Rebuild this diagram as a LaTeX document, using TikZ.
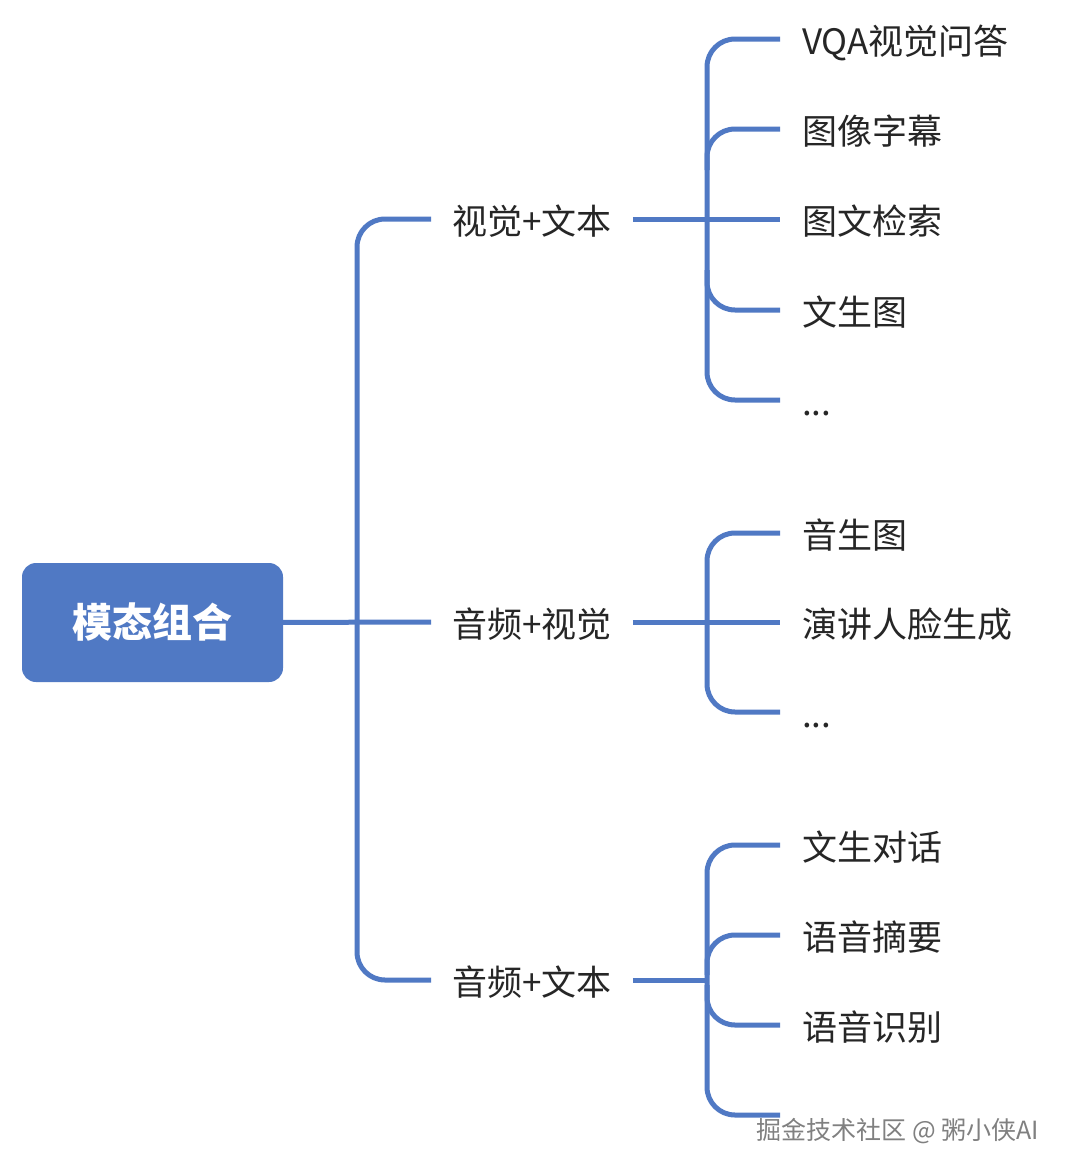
\documentclass[tikz,border=0pt]{standalone}
\usepackage{fontspec}
\setmainfont{Noto Sans CJK SC}
\usetikzlibrary{positioning}
\definecolor{mapblue}{RGB}{80,121,196}
\definecolor{mapink}{RGB}{38,38,38}
\tikzstyle{root} = [rectangle, rounded corners=14pt, fill=mapblue, text=white, font=\fontsize{40}{46}\selectfont\bfseries, minimum width=261pt, minimum height=119pt]
\tikzstyle{topic} = [inner xsep=21pt, text=mapink, font=\fontsize{35}{42}\selectfont, text height=32pt, text depth=2pt]
\tikzstyle{leaf} = [anchor=west, inner xsep=22pt, text=mapink, font=\fontsize{35}{42}\selectfont, text height=32pt, text depth=2pt]
\tikzstyle{link} = [draw=mapblue, line width=5pt, rounded corners=28pt]
\tikzstyle{watermark} = [text=black!50, font=\fontsize{25}{30}\selectfont]

\begin{document}
\begin{tikzpicture}[x=1pt,y=-1pt]
  \fill[white] (0,0) rectangle (1071,1175);
  \useasboundingbox (0,0) rectangle (1071,1175);
  % root and the three pairs
  \node[root] (root) at (152.5,622.5) {模态组合};
  \node[topic] (vt) at (532,219) {视觉+文本};
  \node[topic] (av) at (532,622) {音频+视觉};
  \node[topic] (at) at (532,980) {音频+文本};
  % vision + text
  \node[leaf] (vqa) at (780,39) {VQA视觉问答};
  \node[leaf] (caption) at (780,129) {图像字幕};
  \node[leaf] (retrieval) at (780,219) {图文检索};
  \node[leaf] (t2i) at (780,310) {文生图};
  \node[leaf] (etc1) at (780,400) {...};
  % audio + vision
  \node[leaf] (a2i) at (780,533) {音生图};
  \node[leaf] (face) at (780,622) {演讲人脸生成};
  \node[leaf] (etc2) at (780,712) {...};
  % audio + text
  \node[leaf] (dialog) at (780,845) {文生对话};
  \node[leaf] (summary) at (780,935) {语音摘要};
  \node[leaf] (asr) at (780,1025) {语音识别};
  \coordinate (etc3) at (780,1115);
  \coordinate (atjoin) at (707,980);
  \node[watermark] (credit) at (898,1131) {掘金技术社区 @ 粥小侠AI};

  \draw[link] (root) -- (av);
  \draw[link] (vt.west) -- (357,219) -- (357,980) -- (at.west);

  \draw[link] (vt) -- (retrieval);
  \draw[link] (vqa.west) -- (707,39) -- (707,400) -- (etc1.west);
  \draw[link] (caption.west) -- (707,129) -- (707,170);
  \draw[link] (t2i.west) -- (707,310) -- (707,270);

  \draw[link] (av) -- (face);
  \draw[link] (a2i.west) -- (707,533) -- (707,712) -- (etc2.west);

  \draw[link] (at) -- (atjoin);
  \draw[link] (dialog.west) -- (707,845) -- (707,1115) -- (etc3);
  \draw[link] (summary.west) -- (707,935) -- (707,975);
  \draw[link] (asr.west) -- (707,1025) -- (707,985);
\end{tikzpicture}
\end{document}
